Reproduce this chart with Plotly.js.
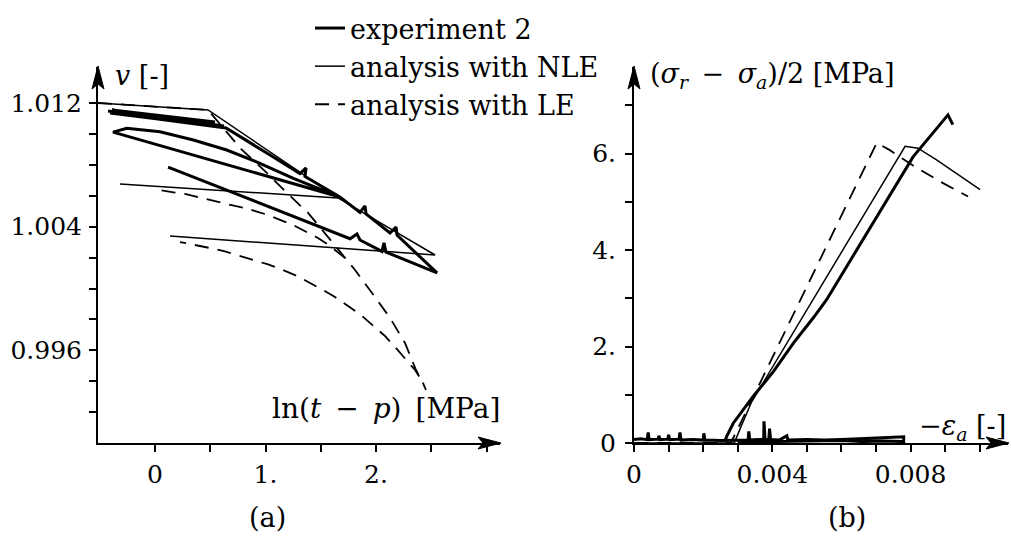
<!DOCTYPE html>
<html>
<head>
<meta charset="utf-8">
<script src="https://cdn.plot.ly/plotly-3.0.1.min.js"></script>
<style>html,body{margin:0;padding:0;background:#fff;}#chart{width:1011px;height:537px;}</style>
</head>
<body>
<div id="chart"></div>
<script>
// ---------- Panel (a): v vs ln(t - p) ----------
const expAX = [-0.425, 0.606, -0.407, 0.543, -0.389, 0.624, -0.317, 0.643, 1.041, 1.312, 1.367, 1.357, 1.674,
               -0.380, -0.256, 0.045, 0.347, 0.649, 0.950, 1.252, 1.674,
               1.855, 1.900, 1.910, 2.127, 2.181, 2.190, 2.552,
               2.090, 2.072, 2.054, 1.855, 1.828, 1.765, 0.118];
const expAY = [1.01148, 1.01045, 1.01135, 1.01077, 1.01155, 1.01051, 1.01129, 1.01038, 1.00864, 1.00744, 1.00780, 1.00725, 1.00592,
               1.01012, 1.01036, 1.01014, 1.00961, 1.00896, 1.00810, 1.00713, 1.00592,
               1.00493, 1.00534, 1.00482, 1.00359, 1.00398, 1.00346, 1.00101,
               1.00236, 1.00295, 1.00240, 1.00314, 1.00353, 1.00322, 1.00786];

const nleAX = [-0.516, 0.480, 1.656, -0.317, 1.656, 2.534, 0.136];
const nleAY = [1.0120, 1.01155, 1.00586, 1.00676, 1.00586, 1.00217, 1.00340];

const leAX = [-0.516, 0.480, 0.778, 0.995, 1.176, 1.385, 1.566, 1.719,
              1.810, 1.964, 2.127, 2.262, 2.362, 2.425, 2.452,
              2.416, 2.353, 2.262, 2.172, 2.081, 1.973, 1.873, 1.747, 1.629, 1.520, 1.403, 1.285, 1.158, 1.023, 0.887, 0.769, 0.633, 0.498, 0.362, 0.226,
              null,
              1.719, 1.584, 1.475, 1.330, 1.249, 1.068, 0.995, 0.814, 0.724, 0.543, 0.434, 0.271, 0.181, -0.018];
const leAY = [1.0120, 1.01155, 1.00903, 1.00760, 1.00631, 1.00489, 1.00333, 1.00198,
              1.00120, 0.99971, 0.99810, 0.99648, 0.99473, 0.99389, 0.99344,
              0.99402, 0.99473, 0.99551, 0.99622, 0.99693, 0.99758, 0.99823, 0.99887, 0.99945, 0.99991, 1.00036, 1.00081, 1.00120, 1.00156, 1.00185, 1.00211, 1.00240, 1.00262, 1.00282, 1.00301,
              null,
              1.00198, 1.00275, 1.00327, 1.00379, 1.00411, 1.00463, 1.00482, 1.00521, 1.00534, 1.00566, 1.00586, 1.00612, 1.00621, 1.00644];

// ---------- Panel (b): (sr - sa)/2 vs -ea ----------
const expBX = [0, 0.0002, 0.00038, 0.00041, 0.00044, 0.0007, 0.00072, 0.00075, 0.00098, 0.0010, 0.00103, 0.0013, 0.00133, 0.00136,
               0.0017, 0.0020, 0.00202, 0.00205, 0.0025, 0.0030, 0.0033, 0.00332, 0.00335, 0.0036, 0.00375, 0.00376, 0.00379,
               0.0039, 0.00392, 0.00395, 0.0042, 0.00442, 0.00445, 0.0050, 0.0055, 0.0060, 0.0065, 0.0070, 0.0075, 0.0078,
               0.0078, 0.0072, 0.0066, 0.0060, 0.0050, 0.0040, 0.0030,
               null,
               0.00263, 0.00268, 0.00287, 0.00311, 0.00345, 0.00403, 0.00461, 0.00518, 0.00557, 0.00807, 0.00908, 0.00922];
const expBY = [0.07, 0.09, 0.07, 0.22, 0.07, 0.08, 0.15, 0.07, 0.08, 0.17, 0.07, 0.08, 0.22, 0.06,
               0.07, 0.06, 0.20, 0.06, 0.05, 0.05, 0.06, 0.24, 0.06, 0.07, 0.08, 0.45, 0.07,
               0.08, 0.30, 0.07, 0.06, 0.15, 0.06, 0.07, 0.06, 0.07, 0.09, 0.11, 0.12, 0.13,
               0.03, 0.04, 0.03, 0.05, 0.04, 0.03, 0.02,
               null,
               0.03, 0.14, 0.41, 0.65, 0.97, 1.48, 2.07, 2.59, 2.97, 5.93, 6.80, 6.60];

const nleBX = [0, 0.0029, 0.0031, 0.0034, 0.00784, 0.00821, 0.00875, 0.00943, 0.01001];
const nleBY = [0, 0, 0.35, 0.85, 6.15, 6.11, 5.87, 5.53, 5.25];

const leBX = [0, 0.0028, 0.00702, 0.0074, 0.00807, 0.00885, 0.00966];
const leBY = [0, 0, 6.22, 6.07, 5.75, 5.42, 5.11];

// tick definitions (labelled major ticks + unlabelled minor ticks)
const aXTicks = [0, 1, 2];
const aXText  = ['0', '1.', '2.'];
const aXMinor = [0.5, 1.5, 2.5, 3];
const aYTicks = [0.996, 1.004, 1.012];
const aYText  = ['0.996', '1.004', '1.012'];
const aYMinor = [0.992, 0.994, 0.998, 1.000, 1.002, 1.006, 1.008, 1.010];
const bXTicks = [0, 0.004, 0.008];
const bXText  = ['0', '0.004', '0.008'];
const bXMinor = [0.001, 0.002, 0.003, 0.005, 0.006, 0.007, 0.009, 0.010];
const bYTicks = [0, 2, 4, 6];
const bYText  = ['0', '2.', '4.', '6.'];
const bYMinor = [1, 3, 5, 7];

const legendNames = ['experiment 2', 'analysis with NLE', 'analysis with LE'];

const FONT = 'DejaVu Serif, serif';
const W = 1011, H = 537;
const px = v => v / W, py = v => (H - v) / H;

const aXR = [-0.516, 3.122], aYR = [0.99001, 1.01433];
const bXR = [0, 0.010816], bYR = [0, 7.793];
const yDom = [py(443), py(67)];

const black = '#000';
const traces = [
  {x: expAX, y: expAY, xaxis: 'x', yaxis: 'y', mode: 'lines', name: legendNames[0], line: {color: black, width: 3}},
  {x: nleAX, y: nleAY, xaxis: 'x', yaxis: 'y', mode: 'lines', name: legendNames[1], line: {color: black, width: 1.5}},
  {x: leAX, y: leAY, xaxis: 'x', yaxis: 'y', mode: 'lines', name: legendNames[2], line: {color: black, width: 1.8, dash: '14px,9px'}},
  {x: expBX, y: expBY, xaxis: 'x2', yaxis: 'y2', mode: 'lines', showlegend: false, line: {color: black, width: 3}},
  {x: nleBX, y: nleBY, xaxis: 'x2', yaxis: 'y2', mode: 'lines', showlegend: false, line: {color: black, width: 1.5}},
  {x: leBX, y: leBY, xaxis: 'x2', yaxis: 'y2', mode: 'lines', showlegend: false, line: {color: black, width: 1.8, dash: '14px,9px'}}
];

const tickFont = {family: FONT, size: 25, color: black};
function axis(extra, minorVals) {
  return Object.assign({
    showgrid: false, zeroline: false, showline: true, linecolor: black, linewidth: 2,
    ticks: 'outside', ticklen: 7, tickwidth: 2, tickcolor: black, tickmode: 'array',
    tickfont: tickFont, fixedrange: true,
    minor: {tickmode: 'array', tickvals: minorVals, ticks: 'outside', ticklen: 7, tickwidth: 2, tickcolor: black, showgrid: false}
  }, extra);
}
function overlay(extra, allVals) {
  return Object.assign({
    showgrid: false, zeroline: false, showline: false, ticks: 'inside', ticklen: 7, tickwidth: 2,
    tickcolor: black, tickmode: 'array', tickvals: allVals, showticklabels: false, fixedrange: true
  }, extra);
}

// arrowheads at axis ends (frame geometry, not data)
function arrowUp(x, yTip) {
  return {type: 'path', xref: 'paper', yref: 'paper', fillcolor: black, line: {color: black, width: 1},
    path: `M ${px(x)} ${py(yTip)} L ${px(x - 6)} ${py(yTip + 23)} L ${px(x)} ${py(yTip + 18)} L ${px(x + 6)} ${py(yTip + 23)} Z`};
}
function arrowRight(xTip, y) {
  return {type: 'path', xref: 'paper', yref: 'paper', fillcolor: black, line: {color: black, width: 1},
    path: `M ${px(xTip)} ${py(y)} L ${px(xTip - 23)} ${py(y - 6)} L ${px(xTip - 18)} ${py(y)} L ${px(xTip - 23)} ${py(y + 6)} Z`};
}

const titleFont = {family: FONT, size: 27, color: black};
const layout = {
  width: W, height: H,
  margin: {l: 0, r: 0, t: 0, b: 0},
  paper_bgcolor: '#fff', plot_bgcolor: 'rgba(0,0,0,0)',
  font: {family: FONT, size: 25, color: black},
  showlegend: true,
  legend: {x: px(310), y: py(4), xanchor: 'left', yanchor: 'top', font: {family: FONT, size: 27, color: black},
           bgcolor: 'rgba(0,0,0,0)', tracegroupgap: 0},
  xaxis: axis({domain: [px(98), px(500)], range: aXR, anchor: 'y', tickvals: aXTicks, ticktext: aXText, ticklabelstandoff: 1}, aXMinor),
  yaxis: axis({domain: yDom, range: aYR, anchor: 'x', tickvals: aYTicks, ticktext: aYText, ticklabelstandoff: 2}, aYMinor),
  xaxis2: axis({domain: [px(634), px(1008)], range: bXR, anchor: 'y2', tickvals: bXTicks, ticktext: bXText, ticklabelstandoff: 1}, bXMinor),
  yaxis2: axis({domain: yDom, range: bYR, anchor: 'x2', tickvals: bYTicks, ticktext: bYText, ticklabelstandoff: 4}, bYMinor),
  xaxis3: overlay({overlaying: 'x', anchor: 'y', range: aXR}, aXTicks.concat(aXMinor)),
  yaxis3: overlay({overlaying: 'y', anchor: 'x', range: aYR}, aYTicks.concat(aYMinor)),
  xaxis4: overlay({overlaying: 'x2', anchor: 'y2', range: bXR}, bXTicks.concat(bXMinor)),
  yaxis4: overlay({overlaying: 'y2', anchor: 'x2', range: bYR}, bYTicks.concat(bYMinor)),
  shapes: [arrowUp(98, 66), arrowRight(501, 443), arrowUp(634, 66), arrowRight(1009, 443)],
  annotations: [
    {xref: 'paper', yref: 'paper', x: px(113), y: py(75), xanchor: 'left', yanchor: 'middle', showarrow: false,
     text: '<i>v</i> [-]', font: titleFont},
    {xref: 'paper', yref: 'paper', x: px(502), y: py(408), xanchor: 'right', yanchor: 'middle', showarrow: false,
     text: 'ln(<i>t</i>\u2002−\u2002<i>p</i>)\u2002[MPa]', font: {family: FONT, size: 28, color: black}},
    {xref: 'paper', yref: 'paper', x: px(648), y: py(76), xanchor: 'left', yanchor: 'middle', showarrow: false,
     text: '(<i>σ</i><sub><i>r</i></sub>\u2002−\u2002<i>σ</i><sub><i>a</i></sub>)/2 [MPa]', font: titleFont},
    {xref: 'paper', yref: 'paper', x: px(1008), y: py(427), xanchor: 'right', yanchor: 'middle', showarrow: false,
     text: '−<i>ε</i><sub><i>a</i></sub> [-]', font: titleFont},
    {xref: 'paper', yref: 'paper', x: px(267), y: py(517), xanchor: 'center', yanchor: 'middle', showarrow: false,
     text: '(a)', font: titleFont},
    {xref: 'paper', yref: 'paper', x: px(847), y: py(517), xanchor: 'center', yanchor: 'middle', showarrow: false,
     text: '(b)', font: titleFont}
  ]
};

Plotly.newPlot('chart', traces, layout, {displayModeBar: false, staticPlot: true});
</script>
</body>
</html>
